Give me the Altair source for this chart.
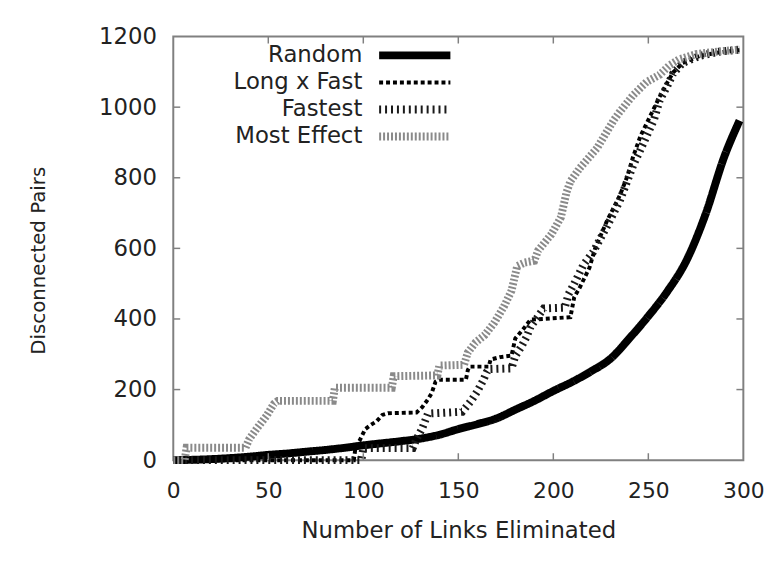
import altair as alt
import pandas as pd

SERIES = ["Random", "Long x Fast", "Fastest", "Most Effect"]

RANDOM_X = [0, 10, 20, 30, 40, 50, 60, 70, 80, 90, 100, 110, 120, 130, 140, 150,
            160, 170, 180, 190, 200, 210, 220, 230, 240, 250, 260, 270, 280, 290, 298]
RANDOM_Y = [0, 1, 3, 6, 10, 15, 19, 24, 29, 35, 42, 48, 54, 61, 72, 88,
            102, 118, 143, 168, 196, 222, 252, 287, 345, 408, 478, 565, 695, 860, 962]

LXF_X = [0, 95, 96, 98, 101, 104, 107, 110, 113, 128, 131, 134, 136, 138, 140, 154,
         155, 156, 166, 167, 172, 178, 180, 184, 188, 209, 211, 214, 219, 222, 228,
         235, 239, 242, 246, 251, 256, 260, 263, 268, 277, 287, 298]
LXF_Y = [0, 0, 40, 55, 88, 100, 110, 128, 133, 135, 150, 172, 190, 222, 228, 228,
         255, 265, 265, 285, 292, 296, 345, 370, 398, 405, 462, 490, 545, 600, 675,
         750, 805, 860, 920, 975, 1030, 1070, 1098, 1125, 1145, 1155, 1162]

FAST_X = [0, 99, 100, 126, 128, 131, 134, 152, 154, 157, 160, 163, 165, 166, 178,
          180, 183, 186, 188, 191, 195, 206, 208, 211, 216, 221, 228, 235, 242, 247,
          253, 256, 260, 263, 268, 277, 287, 298]
FAST_Y = [0, 0, 34, 34, 60, 90, 132, 137, 150, 170, 195, 225, 250, 258, 260,
          295, 320, 350, 378, 400, 430, 432, 470, 500, 555, 590, 660, 735, 835, 893,
          965, 1020, 1060, 1095, 1125, 1145, 1157, 1163]

MOST_X = [0, 6, 7, 38, 40, 44, 49, 53, 55, 84, 85, 115, 116, 139, 140, 153, 155,
          159, 164, 169, 174, 178, 181, 185, 190, 192, 199, 204, 207, 209, 214, 223,
          232, 235, 242, 249, 256, 261, 266, 275, 287, 298]
MOST_Y = [0, 0, 35, 35, 60, 90, 125, 160, 168, 168, 205, 205, 238, 240, 268, 270, 305,
          333, 355, 390, 435, 480, 550, 560, 565, 594, 640, 688, 760, 790, 828, 884,
          965, 987, 1034, 1071, 1092, 1118, 1135, 1150, 1158, 1163]

XTICKS = [0, 50, 100, 150, 200, 250, 300]
YTICKS = [0, 200, 400, 600, 800, 1000, 1200]

rows = []
for name, xs_, ys_ in [("Random", RANDOM_X, RANDOM_Y), ("Long x Fast", LXF_X, LXF_Y),
                       ("Fastest", FAST_X, FAST_Y), ("Most Effect", MOST_X, MOST_Y)]:
    for i, (a, b) in enumerate(zip(xs_, ys_)):
        rows.append({"series": name, "x": a, "y": b, "i": i})
df = pd.DataFrame(rows)
leg = pd.DataFrame({"series": SERIES})
xt = pd.DataFrame({"v": XTICKS[1:-1]})
yt = pd.DataFrame({"v": YTICKS[1:-1]})

W, H = 576, 428
FONT = "DejaVu Sans"
TXT = "#222222"
FRAME = "#808080"

STYLE = {
    "Random": dict(color="#000000", strokeDash=[1, 0], strokeWidth=8, interpolate="monotone"),
    "Long x Fast": dict(color="#000000", strokeDash=[4, 3], strokeWidth=4),
    "Fastest": dict(color="#1a1a1a", strokeDash=[2, 4], strokeWidth=8),
    "Most Effect": dict(color="#8a8a8a", strokeDash=[2, 2], strokeWidth=8),
}

xs = alt.Scale(domain=[0, 300], nice=False, zero=False)
ys = alt.Scale(domain=[0, 1200], nice=False)

x_axis = alt.Axis(values=XTICKS, ticks=False, tickSize=0, domain=False, grid=False,
                  format="d",
                  labelFont=FONT, labelFontSize=22, labelColor=TXT, labelPadding=21,
                  labelOverlap=False, labelFlush=False,
                  title="Number of Links Eliminated", titleFont=FONT, titleFontSize=23,
                  titleFontWeight="normal", titleColor=TXT, titleX=288, titleY=78,
                  titleAlign="center", titleBaseline="alphabetic")
y_axis = alt.Axis(values=YTICKS, ticks=False, tickSize=0, domain=False, grid=False,
                  format="d",
                  labelFont=FONT, labelFontSize=23, labelColor=TXT, labelPadding=17,
                  labelOverlap=False, labelFlush=False,
                  title="Disconnected Pairs", titleFont=FONT, titleFontSize=20,
                  titleFontWeight="normal", titleColor=TXT, titleAngle=270,
                  titleX=-130, titleY=226, titleAlign="center",
                  titleBaseline="alphabetic")

X = alt.X("x:Q", scale=xs, axis=x_axis)
XV = alt.X("v:Q", scale=xs, axis=x_axis)

layers = []
for k, name in enumerate(SERIES):
    st = STYLE[name]
    layers.append(
        alt.Chart(df).transform_filter(alt.datum.series == name)
        .mark_line(clip=False, strokeCap="butt", strokeJoin="miter", **st)
        .encode(x=X,
                y=alt.Y("y:Q", scale=ys, axis=y_axis if k == 0 else None),
                order="i:Q")
    )

# inward ticks on all four sides
tick_style = dict(color=FRAME, strokeWidth=1.5)
layers.append(alt.Chart(xt).mark_rule(**tick_style).encode(
    x=XV, y=alt.value(H), y2=alt.value(H - 7)))
layers.append(alt.Chart(xt).mark_rule(**tick_style).encode(
    x=XV, y=alt.value(0), y2=alt.value(7)))
layers.append(alt.Chart(yt).mark_rule(**tick_style).encode(
    y=alt.Y("v:Q", scale=ys, axis=None), x=alt.value(0), x2=alt.value(7)))
layers.append(alt.Chart(yt).mark_rule(**tick_style).encode(
    y=alt.Y("v:Q", scale=ys, axis=None), x=alt.value(W), x2=alt.value(W - 7)))

# legend (label left of sample, gnuplot style)
ly = alt.Y("series:N", scale=alt.Scale(type="point", domain=SERIES, range=[19, 101], padding=0),
           axis=None)
layers.append(alt.Chart(leg).mark_text(align="right", baseline="middle", font=FONT,
                                       fontSize=23, color=TXT)
              .encode(x=alt.value(191), y=ly, text="series:N"))
for name in SERIES:
    st = {k: v for k, v in STYLE[name].items() if k != "interpolate"}
    layers.append(alt.Chart(leg).transform_filter(alt.datum.series == name)
                  .mark_rule(strokeCap="butt", **st)
                  .encode(x=alt.value(208), x2=alt.value(280), y=ly))

chart = alt.layer(*layers).resolve_scale(y="independent").properties(
    width=W, height=H,
    autosize=alt.AutoSizeParams(type="none"),
    padding={"left": 167, "top": 26, "right": 33, "bottom": 98},
    background="white",
).configure_view(stroke=FRAME, strokeWidth=2)

chart.save("out.html", embed_options={"renderer": "svg", "actions": False})
